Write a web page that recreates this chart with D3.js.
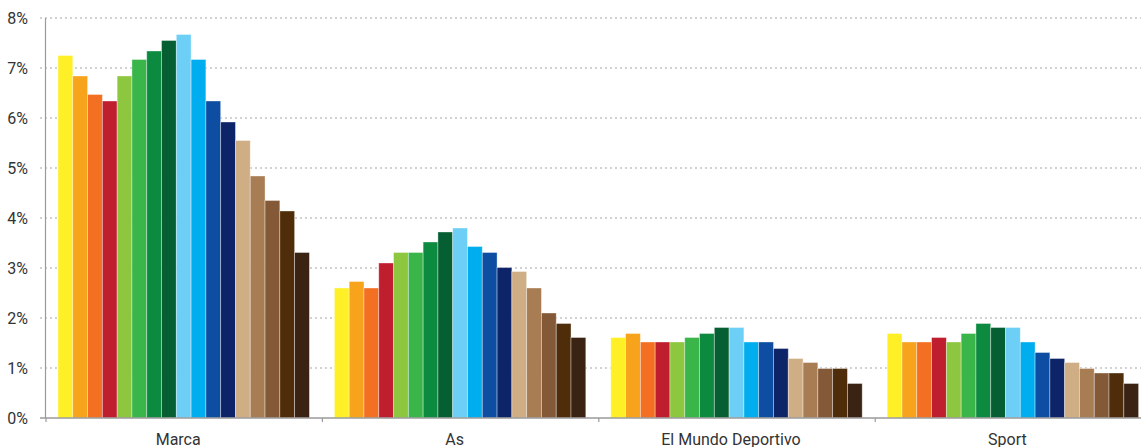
<!DOCTYPE html>
<html>
<head>
<meta charset="utf-8">
<script src="https://cdn.jsdelivr.net/npm/d3@7"></script>
<style>
html,body{margin:0;padding:0;background:#fff;overflow:hidden;}
svg{display:block;}
text{font-family:Roboto, "DejaVu Sans", sans-serif;}
</style>
</head>
<body>
<svg id="chart" width="1141" height="447"></svg>
<script>
const categories = ["Marca", "As", "El Mundo Deportivo", "Sport"];
const seriesNames = ["S1","S2","S3","S4","S5","S6","S7","S8","S9","S10","S11","S12","S13","S14","S15","S16","S17"];
const marcaValues = [7.25, 6.84, 6.47, 6.34, 6.84, 7.17, 7.34, 7.55, 7.67, 7.17, 6.34, 5.92, 5.55, 4.84, 4.35, 4.14, 3.31];
const asValues = [2.6, 2.73, 2.6, 3.1, 3.31, 3.31, 3.52, 3.72, 3.8, 3.43, 3.31, 3.01, 2.93, 2.6, 2.1, 1.89, 1.61];
const mundoValues = [1.61, 1.69, 1.52, 1.52, 1.52, 1.61, 1.69, 1.81, 1.81, 1.52, 1.52, 1.39, 1.19, 1.11, 0.99, 0.99, 0.69];
const sportValues = [1.69, 1.52, 1.52, 1.61, 1.52, 1.69, 1.89, 1.81, 1.81, 1.52, 1.31, 1.19, 1.11, 0.99, 0.9, 0.9, 0.69];
const yTicks = [0, 1, 2, 3, 4, 5, 6, 7, 8];
const colors = ["#FFEF27","#F7A31C","#F36F21","#BE1E2D","#8DC63F","#39B54A","#0C8A3F","#065F33","#6DCFF6","#00AEEF","#0D4EA2","#0E2469","#CFAE86","#A87D53","#835937","#4F2D0A","#3B2314"];

const table = [marcaValues, asValues, mundoValues, sportValues].map((vals, i) => ({
  category: categories[i],
  values: vals.map((v, j) => ({ series: seriesNames[j], value: v }))
}));

const svg = d3.select("#chart");
const axisLeftX = 45.5;
const bandW = 276.4;
const x0 = d3.scaleBand().domain(categories).range([46, 46 + bandW * categories.length]).padding(0);
const x1 = d3.scaleBand().domain(seriesNames).range([12, x0.bandwidth() - 13]).padding(0);
const y = d3.scaleLinear().domain([0, 8]).range([418, 18]);
const color = d3.scaleOrdinal().domain(seriesNames).range(colors);

// gridlines
svg.append("g").selectAll("line").data(yTicks.filter(d => d > 0)).join("line")
  .attr("x1", 40).attr("x2", 1141)
  .attr("y1", d => y(d)).attr("y2", d => y(d))
  .attr("stroke", "#a6a6a6").attr("stroke-width", 1.2)
  .attr("stroke-dasharray", "2,3");

// bars
const groups = svg.append("g").selectAll("g").data(table).join("g")
  .attr("transform", d => `translate(${x0(d.category)},0)`);
groups.selectAll("rect").data(d => d.values).join("rect")
  .attr("x", d => x1(d.series))
  .attr("width", x1.bandwidth())
  .attr("y", d => y(d.value))
  .attr("height", d => y(0) - y(d.value))
  .attr("fill", d => color(d.series))
  .attr("stroke", "rgba(255,255,255,0.45)")
  .attr("stroke-width", 0.8);

// y axis line
svg.append("line")
  .attr("x1", axisLeftX).attr("x2", axisLeftX)
  .attr("y1", y(8)).attr("y2", y(0))
  .attr("stroke", "#9a9a9a").attr("stroke-width", 1.2);

// bottom axis
svg.append("line")
  .attr("x1", 40).attr("x2", 1141)
  .attr("y1", y(0)).attr("y2", y(0))
  .attr("stroke", "#9a9a9a").attr("stroke-width", 1.6);
svg.append("g").selectAll("line").data(categories).join("line")
  .attr("x1", d => x0(d)).attr("x2", d => x0(d))
  .attr("y1", y(0)).attr("y2", y(0) + 4)
  .attr("stroke", "#9a9a9a").attr("stroke-width", 1.2);

// y labels
svg.append("g").selectAll("text").data(yTicks).join("text")
  .attr("x", 28).attr("y", d => y(d))
  .attr("dy", "0.36em")
  .attr("text-anchor", "end")
  .attr("font-size", 16)
  .attr("fill", "#333")
  .text(d => d + "%");

// category labels
svg.append("g").selectAll("text").data(categories).join("text")
  .attr("x", d => x0(d) + x0.bandwidth() / 2 - 6)
  .attr("y", 445)
  .attr("text-anchor", "middle")
  .attr("font-size", 16)
  .attr("fill", "#333")
  .text(d => d);
</script>
</body>
</html>
